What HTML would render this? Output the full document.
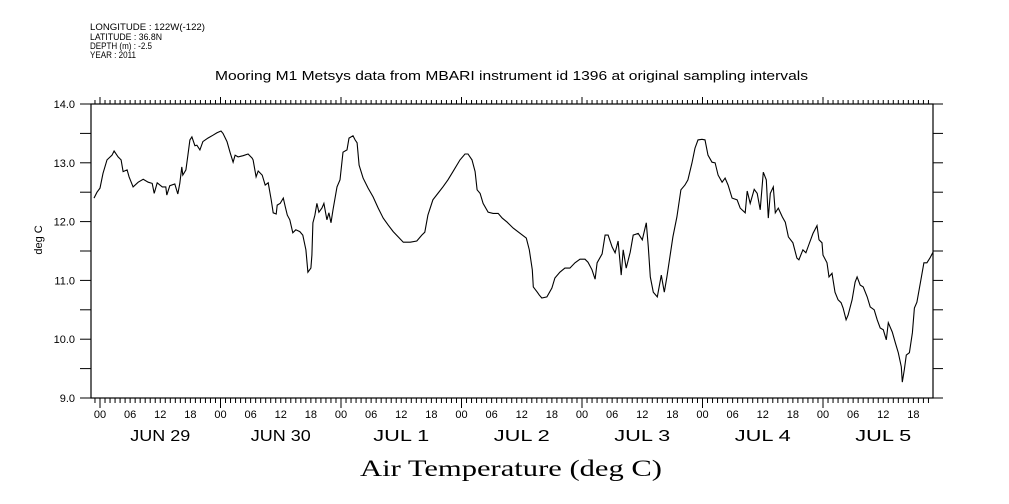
<!DOCTYPE html>
<html><head><meta charset="utf-8"><style>
html,body{margin:0;padding:0;background:#fff;}
svg{display:block;}
text{font-family:"Liberation Sans",sans-serif;fill:#000;}
</style></head><body>
<svg id="chart" width="1009" height="504" viewBox="0 0 1009 504">
<g font-size="9">
<text x="90" y="30" textLength="115" lengthAdjust="spacingAndGlyphs">LONGITUDE : 122W(-122)</text>
<text x="90" y="40" textLength="72" lengthAdjust="spacingAndGlyphs">LATITUDE : 36.8N</text>
<text x="90" y="49" textLength="62" lengthAdjust="spacingAndGlyphs">DEPTH (m) : -2.5</text>
<text x="90" y="58" textLength="46" lengthAdjust="spacingAndGlyphs">YEAR : 2011</text>
</g>
<text x="215" y="80" textLength="593" lengthAdjust="spacingAndGlyphs" font-size="12.5">Mooring M1 Metsys data from MBARI instrument id 1396 at original sampling intervals</text>
<text x="360" y="476" textLength="302" lengthAdjust="spacingAndGlyphs" font-size="23" style="font-family:'Liberation Serif',serif">Air Temperature (deg C)</text>
<text transform="translate(42,240) rotate(-90)" text-anchor="middle" font-size="11">deg C</text>
<rect x="91" y="104" width="842" height="294" fill="none" stroke="#000" stroke-width="1.2"/>
<g id="axes"></g>
<g id="series"></g>
</svg>
<script>
const times=[-1.2,-0.6,0,0.6,1.4,2.4,2.8,3.6,4.2,4.6,5.4,5.8,6.6,7.6,8.6,9.6,10.4,10.8,11.4,12.4,13.1,13.3,13.9,14.9,15.5,15.9,16.3,16.5,17.1,17.5,17.9,18.3,18.9,19.3,19.9,20.5,21.5,22.5,23.3,24.1,24.5,25.3,25.9,26.5,26.9,27.5,28.5,29.5,30.3,30.5,31.1,31.5,32.3,32.9,33.5,34.1,34.5,35.1,35.3,35.9,36.5,36.9,37.3,37.8,38.4,39.0,39.8,40.4,41.0,41.4,42.0,42.2,42.4,42.8,43.2,43.6,44.2,44.6,45.2,45.6,46.0,46.4,47.2,47.8,48.4,49.2,49.6,50.4,50.8,51.2,51.6,52.4,53.4,54.4,55.4,56.4,57.4,58.4,59.4,60.4,61.8,63.1,64.1,64.7,65.3,66.3,67.3,68.3,69.3,70.3,71.7,72.7,73.3,74.1,74.7,75.1,75.7,76.3,77.3,78.3,79.3,80.1,81.1,82.3,83.7,84.9,85.5,86.1,86.3,87.1,87.5,88.0,89.0,90.0,90.6,91.6,92.6,93.6,94.6,95.6,96.6,97.2,98.0,98.6,99.0,100.0,100.6,101.2,102.0,102.6,103.2,103.8,104.2,104.8,105.6,106.2,107.2,108.0,108.8,109.2,109.6,110.2,111.0,111.8,112.4,112.9,113.5,114.1,114.9,115.7,116.5,117.1,117.9,118.5,119.1,119.9,120.5,121.1,121.9,122.5,123.1,123.9,124.5,125.1,125.9,126.9,127.5,128.5,128.9,129.5,130.3,130.9,131.5,132.1,132.7,133.1,133.5,134.1,134.5,135.1,135.9,136.5,137.1,138.0,138.8,139.2,140.0,140.6,141.2,142.0,142.8,143.2,143.8,144.0,144.8,145.2,145.8,146.4,147.0,147.6,148.0,148.6,149.0,149.8,150.4,150.8,151.4,152.0,152.8,153.4,154.2,154.8,155.4,156.0,156.6,157.0,157.8,158.4,159.0,159.6,159.8,160.2,160.6,161.2,161.8,162.2,162.7,163.5,164.1,164.7,165.3,165.9];
const temps=[12.40,12.50,12.57,12.82,13.05,13.13,13.20,13.10,13.05,12.85,12.88,12.76,12.59,12.67,12.72,12.67,12.65,12.48,12.66,12.59,12.59,12.45,12.61,12.64,12.47,12.65,12.93,12.79,12.88,13.13,13.39,13.44,13.29,13.30,13.22,13.36,13.42,13.47,13.51,13.54,13.50,13.36,13.18,13.01,13.13,13.10,13.12,13.15,13.08,13.05,12.76,12.86,12.79,12.62,12.66,12.37,12.15,12.13,12.28,12.31,12.40,12.25,12.11,12.03,11.81,11.86,11.83,11.77,11.52,11.14,11.21,11.43,11.98,12.11,12.31,12.16,12.23,12.31,12.03,12.15,11.98,12.20,12.59,12.71,13.18,13.22,13.42,13.46,13.39,13.34,12.96,12.74,12.57,12.42,12.23,12.06,11.94,11.83,11.74,11.65,11.65,11.67,11.77,11.82,12.11,12.37,12.48,12.59,12.71,12.85,13.05,13.15,13.15,13.05,12.85,12.54,12.48,12.31,12.16,12.14,12.14,12.06,11.99,11.89,11.80,11.72,11.52,11.18,10.89,10.80,10.75,10.70,10.72,10.87,11.04,11.14,11.21,11.21,11.30,11.36,11.36,11.31,11.18,11.02,11.30,11.45,11.77,11.77,11.57,11.47,11.67,11.09,11.52,11.21,11.48,11.77,11.80,11.69,11.98,11.57,11.06,10.80,10.72,11.09,10.80,11.06,11.40,11.74,12.08,12.54,12.62,12.71,13.00,13.25,13.39,13.40,13.39,13.13,13.01,13.00,12.79,12.67,12.74,12.62,12.40,12.37,12.23,12.15,12.52,12.31,12.55,12.48,12.20,12.84,12.71,12.06,12.48,12.59,12.15,12.23,12.08,11.99,11.74,11.64,11.38,11.35,11.52,11.47,11.61,11.80,11.93,11.69,11.64,11.43,11.30,11.06,11.12,10.80,10.67,10.62,10.53,10.33,10.41,10.67,10.97,11.06,10.92,10.89,10.72,10.55,10.50,10.33,10.19,10.16,9.99,10.28,10.12,9.94,9.77,9.53,9.27,9.48,9.73,9.77,10.11,10.53,10.63,11.01,11.30,11.30,11.38,11.48];
const yTicks=[9.0,10.0,11.0,12.0,13.0,14.0];
const hourLabels=["00","06","12","18"];
const dayLabels=["JUN 29","JUN 30","JUL  1","JUL  2","JUL  3","JUL  4","JUL  5"];

const X0=100, PXH=120.5/24, Y0=104, PXD=58.8;
function xs(t){return X0+t*PXH;}
function ys(v){return Y0+(14-v)*PXD;}
const NS="http://www.w3.org/2000/svg";
const axes=document.getElementById('axes');
function mk(tag,attrs,parent){const e=document.createElementNS(NS,tag);for(const k in attrs)e.setAttribute(k,attrs[k]);parent.appendChild(e);return e;}

for(let v=9;v<=14.001;v+=0.5){
  const y=ys(v);
  const l=mk('line',{x1:80,x2:91,y1:y,y2:y,stroke:'#000','stroke-width':1},axes);
  
  
  const r=mk('line',{x1:933,x2:943,y1:y,y2:y,stroke:'#000','stroke-width':1},axes);
  
  
}
yTicks.forEach(v=>{
  const t=mk('text',{x:75,y:ys(v)+4,'text-anchor':'end','font-size':11},axes);
  t.textContent=v.toFixed(1);
  
  
});
for(let h=-1;h<=166;h++){
  const x=xs(h); if(x<91||x>933) continue;
  const major=(h%24===0);
  const b=mk('line',{x1:x,x2:x,y1:398,y2:major?408:403,stroke:'#000','stroke-width':1},axes);
  
  
  const t=mk('line',{x1:x,x2:x,y1:104,y2:major?97:100,stroke:'#000','stroke-width':1},axes);
  
  
}
for(let d=0;d<dayLabels.length;d++){
  hourLabels.forEach((lab,i)=>{
    const t=mk('text',{x:xs(d*24+i*6),y:418,'text-anchor':'middle','font-size':11},axes);
    t.textContent=lab;
    
    
  });
  const w=dayLabels[d].startsWith('JUN')?60:56;
  const dl=mk('text',{x:xs(d*24+12)-w/2,y:441,'font-size':16,textLength:w,lengthAdjust:'spacingAndGlyphs','xml:space':'preserve'},axes);
  dl.textContent=dayLabels[d];
  
  
}
const pts=times.map((t,i)=>xs(t).toFixed(1)+','+ys(temps[i]).toFixed(1)).join(' ');
const line=mk('polyline',{points:pts,fill:'none',stroke:'#000','stroke-width':1.1},document.getElementById('series'));


</script>
</body></html>
